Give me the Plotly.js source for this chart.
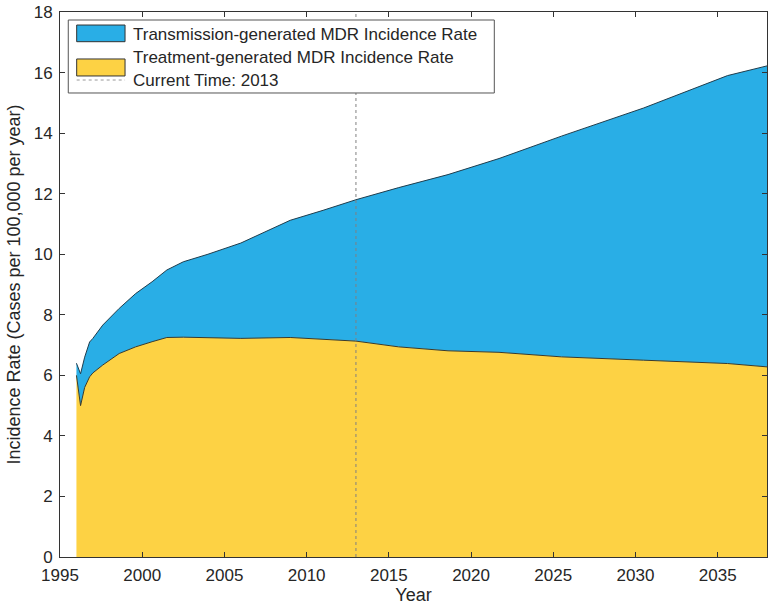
<!DOCTYPE html>
<html>
<head>
<meta charset="utf-8">
<script src="https://cdn.plot.ly/plotly-3.0.1.min.js"></script>
<style>html,body{margin:0;padding:0;background:#fff;}#chart{width:775px;height:610px;}</style>
</head>
<body>
<div id="chart"></div>
<script>
var years = [1996.0, 1996.25, 1996.5, 1996.8, 1997.0, 1997.6, 1998.6, 1999.6, 2000.6, 2001.5, 2002.5, 2004, 2006, 2009, 2011, 2013, 2015.6, 2018.6, 2021.7, 2025.5, 2030.5, 2035.6, 2038];
var treatment = [6.0, 5.0, 5.6, 5.95, 6.08, 6.34, 6.72, 6.94, 7.11, 7.25, 7.26, 7.25, 7.22, 7.25, 7.2, 7.13, 6.94, 6.81, 6.76, 6.61, 6.50, 6.39, 6.28];
var transmission = [0.40, 1.05, 1.0, 1.15, 1.14, 1.32, 1.49, 1.76, 1.98, 2.23, 2.49, 2.75, 3.15, 3.87, 4.25, 4.67, 5.26, 5.82, 6.40, 7.29, 8.33, 9.51, 9.94];
var seriesNames = ['Transmission-generated MDR Incidence Rate', 'Treatment-generated MDR Incidence Rate', 'Current Time: 2013'];
var currentYear = 2013;
var yLimits = [0, 18];

var blue = '#29AEE6', yellow = '#FDD244';
var fontFam = 'Liberation Sans, Arial, sans-serif';
var tickFont = {family: fontFam, size: 17, color: '#262626'};
var titleFont = {family: fontFam, size: 18, color: '#262626'};
var legFont = {family: fontFam, size: 17, color: '#262626'};

var traces = [
  {x: years, y: treatment, type: 'scatter', mode: 'lines', stackgroup: 'one',
   name: seriesNames[1], line: {color: '#3a3a2a', width: 1}, fillcolor: yellow},
  {x: years, y: transmission, type: 'scatter', mode: 'lines', stackgroup: 'one',
   name: seriesNames[0], line: {color: '#1f3d4d', width: 1}, fillcolor: blue},
  {x: [currentYear, currentYear], y: yLimits, type: 'scatter', mode: 'lines',
   name: seriesNames[2], line: {color: '#808080', width: 1, dash: 'dot'}}
];

var axisCommon = {
  showgrid: false, zeroline: false, showline: true, linecolor: '#333', linewidth: 1,
  mirror: 'ticks', ticks: 'inside', ticklen: 5, tickcolor: '#333', tickfont: tickFont
};

// Legend drawn with shapes + annotations (paper coordinates)
var lx0 = 0.0117, lx1 = 0.6143, ly0 = 0.8514, ly1 = 0.9853;
var swx0 = 0.0236, swx1 = 0.0920, textX = 0.1000;
var rowY = [0.9596, 0.9174, 0.8752];
var shapes = [
  {type: 'rect', xref: 'paper', yref: 'paper', x0: lx0, x1: lx1, y0: ly0, y1: ly1,
   fillcolor: '#fff', line: {color: '#555', width: 1}, layer: 'above'},
  {type: 'rect', xref: 'paper', yref: 'paper', x0: swx0, x1: swx1, y0: 0.9455, y1: 0.9761,
   fillcolor: blue, line: {color: '#333', width: 1}, layer: 'above'},
  {type: 'rect', xref: 'paper', yref: 'paper', x0: swx0, x1: swx1, y0: 0.8826, y1: 0.9138,
   fillcolor: yellow, line: {color: '#333', width: 1}, layer: 'above'},
  {type: 'line', xref: 'paper', yref: 'paper', x0: swx0, x1: swx1, y0: rowY[2], y1: rowY[2],
   line: {color: '#999', width: 1, dash: 'dot'}, layer: 'above'}
];
var annotations = seriesNames.map(function (t, i) {
  return {xref: 'paper', yref: 'paper', x: textX, y: rowY[i], xanchor: 'left', yanchor: 'middle',
          text: t, showarrow: false, font: legFont};
});

var layout = {
  width: 775, height: 610,
  margin: {l: 60, r: 8, t: 12, b: 53},
  paper_bgcolor: '#fff', plot_bgcolor: '#fff',
  font: tickFont,
  showlegend: false,
  xaxis: Object.assign({}, axisCommon, {range: [1995, 2038], dtick: 5, tick0: 1995, ticklabelstandoff: 3,
    title: {text: 'Year', font: titleFont, standoff: 1}}),
  yaxis: Object.assign({}, axisCommon, {range: yLimits, dtick: 2, tick0: 0, ticklabelstandoff: 3,
    title: {text: 'Incidence Rate (Cases per 100,000 per year)', font: titleFont, standoff: 8}}),
  shapes: shapes,
  annotations: annotations
};

Plotly.newPlot('chart', traces, layout, {displayModeBar: false, staticPlot: true});
</script>
</body>
</html>
